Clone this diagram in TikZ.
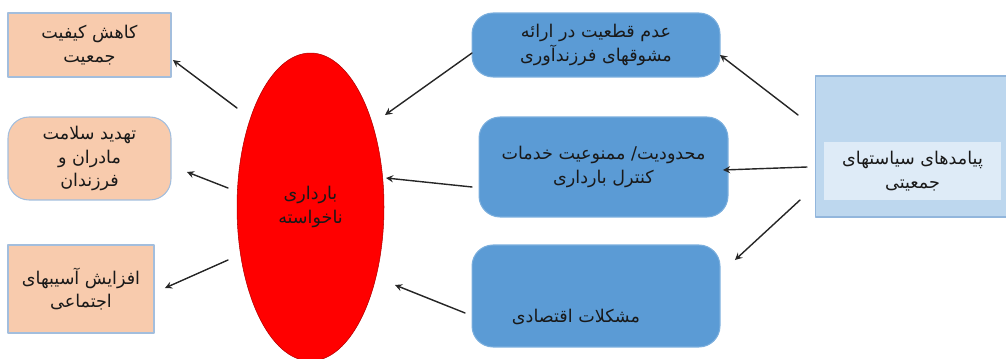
\documentclass[tikz,border=0pt]{standalone}
\usepackage{fontspec}
\newfontfamily\arabicfont[Script=Arabic]{DejaVu Sans}
\TeXXeTstate=1
\usetikzlibrary{shapes.geometric}
\definecolor{peach}{HTML}{F8CBAD}
\definecolor{peachline}{HTML}{A3BEDD}
\definecolor{midblue}{HTML}{5B9BD5}
\definecolor{midblueline}{HTML}{7AAEDD}
\definecolor{paleblue}{HTML}{BDD7EE}
\definecolor{palebluel}{HTML}{92B6DC}
\definecolor{paleinner}{HTML}{DEEBF7}
\newcommand{\fa}[1]{\beginR #1\endR}
\tikzset{
  txt/.style={font=\arabicfont\fontsize{10}{13.5}\selectfont, align=center, text=black!90, inner sep=0pt},
  effect/.style={txt, draw=peachline, fill=peach, line width=0.6pt, outer sep=0pt},
  cause/.style={txt, draw=midblueline, fill=midblue, line width=0.6pt, rounded corners=12pt, outer sep=0pt},
}
\begin{document}
\begin{tikzpicture}[x=0.02cm, y=-0.02cm, line join = round, line cap = round, >=stealth]
				\useasboundingbox (0,0) rectangle (1006,358);
				% effects on the left
				\node[effect, minimum width=3.26cm, minimum height=1.28cm] (box1) at (89.5,45) {\fa{کاهش کیفیت}\\\fa{جمعیت}};
				\node[effect, rounded corners=12pt, minimum width=3.26cm, minimum height=1.66cm] (box2) at (89.5,158.5) {\fa{تهدید سلامت}\\\fa{مادران و}\\\fa{فرزندان}};
				\node[effect, minimum width=2.92cm, minimum height=1.76cm] (box3) at (81,289) {\fa{افزایش آسیبهای}\\\fa{اجتماعی}};
				% the ellipse
				\node[txt, ellipse, fill=red, draw=red!70!black, line width=0.3pt, outer sep=0pt, minimum width=2.94cm, minimum height=6.16cm] (preg) at (310.5,207) {\fa{بارداری}\\\fa{ناخواسته}};
				% causes
				\node[cause, minimum width=4.96cm, minimum height=1.28cm] (blue1) at (596,45) {\fa{عدم قطعیت در ارائه}\\\fa{مشوقهای فرزندآوری}};
				\node[cause, minimum width=4.98cm, minimum height=2cm] (blue2) at (603.5,167) {\fa{محدودیت/ ممنوعیت خدمات}\\\fa{کنترل بارداری}};
				\node[cause, minimum width=4.96cm, minimum height=2.04cm] (blue3) at (596,296) {};
				\node[txt] (blue3txt) at ([shift={(-20,21)}]blue3.center) {\fa{مشکلات اقتصادی}};
				% policy box
				\node[draw=palebluel, fill=paleblue, line width=0.6pt, outer sep=0pt, minimum width=4.3cm, minimum height=2.82cm] (policy) at (922.5,146.5) {};
				\node[txt, fill=paleinner, minimum width=3.54cm, minimum height=1.16cm] (inner) at (912.5,171) {\fa{پیامدهای سیاستهای}\\\fa{جمعیتی}};
				\path ([shift={(-73.5,-99)}]preg.center) coordinate (E1)
				([shift={(-82.5,-19)}]preg.center) coordinate (E2)
				([shift={(-82.5,53)}]preg.center) coordinate (E3)
				([shift={(74.5,-92)}]preg.center) coordinate (E4)
				([shift={(75.5,-29)}]preg.center) coordinate (E5)
				([shift={(84.5,78)}]preg.center) coordinate (E6)
				([shift={(2,15)}]box1.east) coordinate (Q1)
				([shift={(16,13.5)}]box2.east) coordinate (Q2)
				([shift={(11,-1)}]box3.east) coordinate (Q3)
				([shift={(0,8)}]blue1.west) coordinate (B1)
				([shift={(-7,20)}]blue2.west) coordinate (B2)
				([shift={(-7,17)}]blue3.west) coordinate (B3)
				([shift={(0,10)}]blue1.east) coordinate (C1)
				([shift={(-5,3)}]blue2.east) coordinate (C2)
				([shift={(15,-36)}]blue3.east) coordinate (C3)
				([shift={(-17,-31.5)}]policy.west) coordinate (P1)
				([shift={(-8,20.5)}]policy.west) coordinate (P2)
				([shift={(-15,53.5)}]policy.west) coordinate (P3)
				;
				\foreach \s/\t in {E1/Q1,E2/Q2,E3/Q3,B1/E4,B2/E5,B3/E6,P1/C1,P2/C2,P3/C3}
				\draw[->, black!85, line width=0.8pt] (\s) -- (\t);
\end{tikzpicture}
\end{document}
